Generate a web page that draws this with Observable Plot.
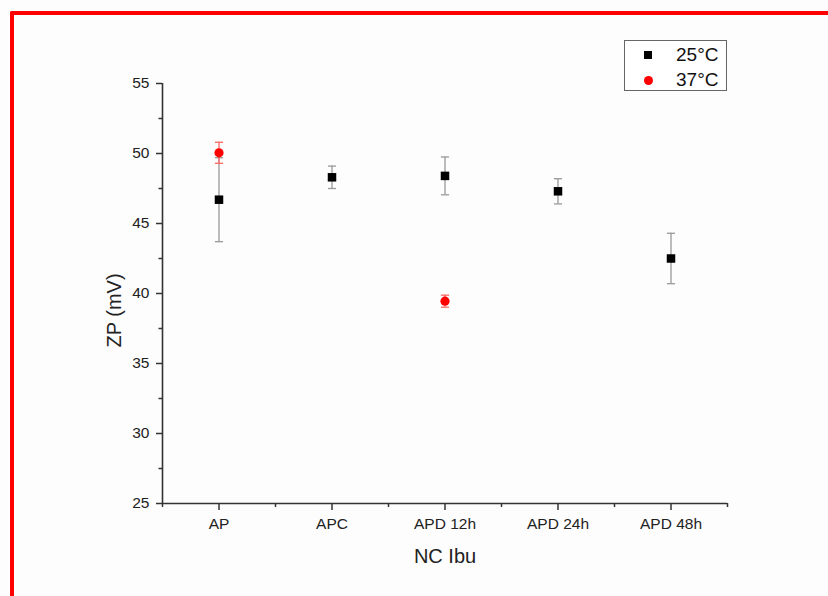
<!DOCTYPE html>
<html><head><meta charset="utf-8">
<script src="https://cdn.jsdelivr.net/npm/d3@7"></script>
<script src="https://cdn.jsdelivr.net/npm/@observablehq/plot@0.6"></script>
<style>
body{margin:0;background:#fff;font-family:"Liberation Sans",Arial,sans-serif;}
#wrap{position:relative;width:828px;height:596px;overflow:hidden;background:#fdfdfd;}
#frame{position:absolute;left:10px;top:11px;right:-20px;bottom:-20px;border-left:4px solid #f00;border-top:4px solid #f00;border-top-left-radius:2px;pointer-events:none;}
#chart{position:absolute;left:0;top:0;}
#legend{position:absolute;left:624px;top:40px;width:103px;height:51px;border:1px solid #666;background:#fff;box-sizing:border-box;}
.row{position:absolute;left:0;height:20px;width:100%;}
.sym{position:absolute;}
.lab{position:absolute;left:51px;font-size:19px;color:#111;line-height:20px;top:0;}
</style>
</head><body>
<div id="wrap">
  <div id="chart"></div>
  <div id="frame"></div>
  <div id="legend"></div>
</div>
<script>
const categories = ["AP", "APC", "APD 12h", "APD 24h", "APD 48h"];
const zp25 = [46.7, 48.3, 48.4, 47.3, 42.5];
const err25 = [3.0, 0.8, 1.35, 0.9, 1.8];
const zp37 = [50.05, null, 39.45, null, null];
const err37 = [0.75, null, 0.43, null, null];
const yTicks = [25, 30, 35, 40, 45, 50, 55];
const seriesNames = ["25°C", "37°C"];

const d25 = categories.map((c, i) => ({i: i + 1, c, v: zp25[i], e: err25[i]}));
const d37 = categories.map((c, i) => ({i: i + 1, c, v: zp37[i], e: err37[i]})).filter(d => d.v != null);

const yMinor = yTicks.slice(0, -1).map(t => t + 2.5);
const xMajor = categories.map((c, i) => i + 1);
const xMinor = [0.5, ...xMajor.map(t => t + 0.5)];
const capW = 0.036;
const axisColor = "#333";

const plot = Plot.plot({
  width: 828,
  height: 596,
  marginLeft: 162,
  marginRight: 101,
  marginTop: 83,
  marginBottom: 93,
  style: {fontFamily: "'Liberation Sans', Arial, sans-serif", background: "transparent", color: "#222"},
  x: {type: "linear", domain: [0.5, categories.length + 0.5]},
  y: {domain: [25, 55]},
  marks: [
    Plot.axisY({ticks: yTicks, tickSize: 6, tickPadding: 7, label: null, fontSize: 15.5, stroke: axisColor, strokeWidth: 1.5, fill: "#222"}),
    Plot.axisY({ticks: yMinor, tickSize: 3.5, tickFormat: () => "", label: null, stroke: axisColor, strokeWidth: 1.5}),
    Plot.axisX({ticks: xMajor, tickSize: 7, tickPadding: 7, tickFormat: d => categories[d - 1], label: null, fontSize: 15.5, stroke: axisColor, strokeWidth: 1.5, fill: "#222"}),
    Plot.axisX({ticks: xMinor, tickSize: 4, tickFormat: () => "", label: null, stroke: axisColor, strokeWidth: 1.5}),
    Plot.ruleY([25], {stroke: axisColor, strokeWidth: 1.6}),
    Plot.ruleX([0.5], {stroke: axisColor, strokeWidth: 1.6}),
    Plot.text(["NC Ibu"], {frameAnchor: "bottom", textAnchor: "middle", lineAnchor: "middle", dy: 53.5, fontSize: 20, fill: "#222"}),
    Plot.text(["ZP (mV)"], {frameAnchor: "left", textAnchor: "middle", lineAnchor: "middle", dx: -48, dy: 17, rotate: -90, fontSize: 20, fill: "#222"}),
    // error bars 25°C
    Plot.ruleX(d25, {x: "i", y1: d => d.v - d.e, y2: d => d.v + d.e, stroke: "#999", strokeWidth: 1.3}),
    Plot.link(d25, {x1: d => d.i - capW, x2: d => d.i + capW, y1: d => d.v + d.e, y2: d => d.v + d.e, stroke: "#999", strokeWidth: 1.3}),
    Plot.link(d25, {x1: d => d.i - capW, x2: d => d.i + capW, y1: d => d.v - d.e, y2: d => d.v - d.e, stroke: "#999", strokeWidth: 1.3}),
    // error bars 37°C
    Plot.ruleX(d37, {x: "i", y1: d => d.v - d.e, y2: d => d.v + d.e, stroke: "#f66", strokeWidth: 1.3}),
    Plot.link(d37, {x1: d => d.i - capW, x2: d => d.i + capW, y1: d => d.v + d.e, y2: d => d.v + d.e, stroke: "#f66", strokeWidth: 1.3}),
    Plot.link(d37, {x1: d => d.i - capW, x2: d => d.i + capW, y1: d => d.v - d.e, y2: d => d.v - d.e, stroke: "#f66", strokeWidth: 1.3}),
    Plot.dot(d25, {x: "i", y: "v", symbol: "square", r: 4.8, fill: "#000", stroke: "none"}),
    Plot.dot(d37, {x: "i", y: "v", symbol: "circle", r: 4.6, fill: "#f00", stroke: "none"})
  ]
});
document.getElementById("chart").appendChild(plot);

// legend
const legend = document.getElementById("legend");
const rows = [
  {name: seriesNames[0], top: 4, sym: '<div class="sym" style="left:19px;top:6px;width:8px;height:8px;background:#000"></div>'},
  {name: seriesNames[1], top: 29, sym: '<div class="sym" style="left:18.5px;top:5.5px;width:9px;height:9px;border-radius:50%;background:#f00"></div>'}
];
rows.forEach(r => {
  const row = document.createElement("div");
  row.className = "row";
  row.style.top = r.top + "px";
  row.innerHTML = r.sym + '<span class="lab">' + r.name + '</span>';
  legend.appendChild(row);
});
</script>
</body></html>
